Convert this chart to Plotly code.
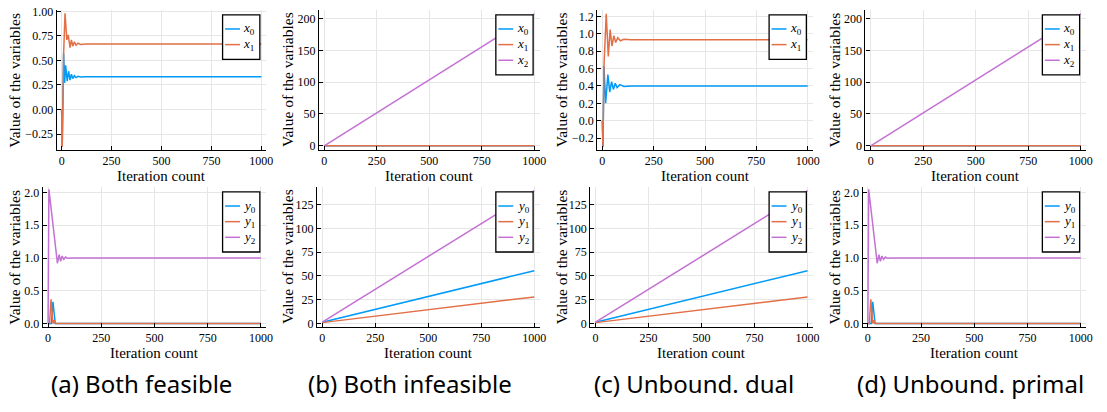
import plotly.graph_objects as go

W, H = 1107, 412

BLUE, ORANGE, PURPLE = "#009AF9", "#E26F46", "#C371D2"

# ---------------- data ----------------
iter_ticks = [0, 250, 500, 750, 1000]
iter_labels = ["0", "250", "500", "750", "1000"]

# (a) both feasible: primal iterates
a_x0_iter = [0, 3, 10, 15, 20, 28, 35, 42, 49, 56, 64, 72, 82, 95, 120, 1000]
a_x0 = [0.0, -0.38, 0.57, 0.27, 0.45, 0.29, 0.39, 0.30, 0.36, 0.315, 0.345, 0.325, 0.338, 0.331, 0.333, 0.333]
a_x1_iter = [0, 3, 10, 17, 26, 33, 42, 49, 56, 64, 72, 82, 95, 120, 1000]
a_x1 = [0.0, -0.38, 0.57, 0.98, 0.71, 0.76, 0.63, 0.71, 0.645, 0.69, 0.655, 0.675, 0.663, 0.667, 0.667]
# (a) both feasible: dual iterates
a_y0_iter = [0, 16, 23, 34, 1000]
a_y0 = [0.0, 0.0, 0.33, 0.0, 0.0]
a_y1_iter = [0, 7, 14, 23, 29, 34, 1000]
a_y1 = [0.0, 0.0, 0.37, 0.0, 0.05, 0.0, 0.0]
a_y2_iter = [0, 4, 44, 52, 59, 66, 74, 82, 92, 108, 1000]
a_y2 = [0.0, 2.05, 0.92, 1.05, 0.95, 1.03, 0.98, 1.015, 0.995, 1.0, 1.0]

# (b) both infeasible
b_iter = [0, 1000]
b_x0 = [0.0, 0.0]
b_x1 = [0.0, 0.0]
b_x2 = [0.0, 207.5]
b_y0 = [1.5, 55.5]
b_y1 = [1.0, 28.0]
b_y2 = [1.5, 139.5]

# (c) unbounded dual
c_x0_iter = [0, 3, 8, 16, 27, 36, 45, 54, 63, 72, 85, 105, 140, 1000]
c_x0 = [0.0, -0.3, 0.63, 0.20, 0.53, 0.33, 0.45, 0.36, 0.43, 0.38, 0.415, 0.395, 0.40, 0.40]
c_x1_iter = [0, 3, 8, 19, 29, 38, 47, 56, 65, 75, 88, 105, 140, 1000]
c_x1 = [0.0, -0.3, 0.63, 1.23, 0.74, 1.05, 0.86, 0.98, 0.90, 0.955, 0.92, 0.938, 0.933, 0.933]
c_iter = [0, 1000]
c_y0 = [1.5, 55.5]
c_y1 = [1.0, 28.0]
c_y2 = [1.5, 139.5]

# (d) unbounded primal
d_iter = [0, 1000]
d_x0 = [0.0, 0.0]
d_x1 = [0.0, 0.0]
d_x2 = [0.0, 207.5]
d_y0_iter = [0, 16, 23, 34, 1000]
d_y0 = [0.0, 0.0, 0.33, 0.0, 0.0]
d_y1_iter = [0, 7, 14, 23, 29, 34, 1000]
d_y1 = [0.0, 0.0, 0.37, 0.0, 0.05, 0.0, 0.0]
d_y2_iter = [0, 4, 44, 52, 59, 66, 74, 82, 92, 108, 1000]
d_y2 = [0.0, 2.05, 0.92, 1.05, 0.95, 1.03, 0.98, 1.015, 0.995, 1.0, 1.0]

captions = ["(a) Both feasible", "(b) Both infeasible", "(c) Unbound. dual", "(d) Unbound. primal"]
caption_x = [142, 413, 698, 977]

ticks_a_top = [-0.25, 0.0, 0.25, 0.5, 0.75, 1.0]
ticks_a_top_lbl = ["\u22120.25", "0.00", "0.25", "0.50", "0.75", "1.00"]
ticks_big = [0, 50, 100, 150, 200]
ticks_big_lbl = ["0", "50", "100", "150", "200"]
ticks_c_top = [-0.2, 0.0, 0.2, 0.4, 0.6, 0.8, 1.0, 1.2]
ticks_c_top_lbl = ["\u22120.2", "0.0", "0.2", "0.4", "0.6", "0.8", "1.0", "1.2"]
ticks_dual = [0.0, 0.5, 1.0, 1.5, 2.0]
ticks_dual_lbl = ["0.0", "0.5", "1.0", "1.5", "2.0"]
ticks_lin = [0, 25, 50, 75, 100, 125]
ticks_lin_lbl = ["0", "25", "50", "75", "100", "125"]

X_NAMES = ["<i>x</i><sub>0</sub>", "<i>x</i><sub>1</sub>", "<i>x</i><sub>2</sub>"]
Y_NAMES = ["<i>y</i><sub>0</sub>", "<i>y</i><sub>1</sub>", "<i>y</i><sub>2</sub>"]

# panel boxes in pixels: (left, right, top, bottom)
panels = [
    dict(box=(57, 268, 5, 148), yr=(-0.41, 1.015), tv=ticks_a_top, tt=ticks_a_top_lbl,
         series=[(a_x0_iter, a_x0, BLUE), (a_x1_iter, a_x1, ORANGE)], names=X_NAMES),
    dict(box=(321, 543, 5, 148), yr=(-6.3, 213.8), tv=ticks_big, tt=ticks_big_lbl,
         series=[(b_iter, b_x0, BLUE), (b_iter, b_x1, ORANGE), (b_iter, b_x2, PURPLE)], names=X_NAMES),
    dict(box=(601, 818, 5, 148), yr=(-0.335, 1.276), tv=ticks_c_top, tt=ticks_c_top_lbl,
         series=[(c_x0_iter, c_x0, BLUE), (c_x1_iter, c_x1, ORANGE)], names=X_NAMES),
    dict(box=(871, 1093, 5, 148), yr=(-6.3, 213.8), tv=ticks_big, tt=ticks_big_lbl,
         series=[(d_iter, d_x0, BLUE), (d_iter, d_x1, ORANGE), (d_iter, d_x2, PURPLE)], names=X_NAMES),
    dict(box=(43, 268, 186, 329), yr=(-0.05, 2.085), tv=ticks_dual, tt=ticks_dual_lbl,
         series=[(a_y0_iter, a_y0, BLUE), (a_y1_iter, a_y1, ORANGE), (a_y2_iter, a_y2, PURPLE)], names=Y_NAMES),
    dict(box=(319, 543, 186, 329), yr=(-3.4, 143.5), tv=ticks_lin, tt=ticks_lin_lbl,
         series=[(b_iter, b_y0, BLUE), (b_iter, b_y1, ORANGE), (b_iter, b_y2, PURPLE)], names=Y_NAMES),
    dict(box=(594, 818, 186, 329), yr=(-3.4, 143.5), tv=ticks_lin, tt=ticks_lin_lbl,
         series=[(c_iter, c_y0, BLUE), (c_iter, c_y1, ORANGE), (c_iter, c_y2, PURPLE)], names=Y_NAMES),
    dict(box=(868, 1093, 186, 329), yr=(-0.05, 2.085), tv=ticks_dual, tt=ticks_dual_lbl,
         series=[(d_y0_iter, d_y0, BLUE), (d_y1_iter, d_y1, ORANGE), (d_y2_iter, d_y2, PURPLE)], names=Y_NAMES),
]

SERIF = "Liberation Serif"


def fx(p):
    return p / W


def fy(p):
    return 1 - p / H


fig = go.Figure()
layout = dict(
    width=W, height=H, margin=dict(l=0, r=0, t=0, b=0),
    paper_bgcolor="white", plot_bgcolor="white", showlegend=False,
)
shapes, annotations = [], []

for i, p in enumerate(panels, start=1):
    l, r, t, b = p["box"]
    xa, ya = f"x{i}", f"y{i}"
    axis_common = dict(
        showline=True, linecolor="black", linewidth=1.2, mirror=False,
        ticks="inside", ticklen=4, tickwidth=1, tickcolor="black",
        showgrid=True, gridcolor="#e6e6e6", gridwidth=1, zeroline=False,
        tickfont=dict(family=SERIF, size=12, color="black"), tickmode="array",
    )
    layout[f"xaxis{i}"] = dict(axis_common, domain=[fx(l), fx(r)], anchor=ya,
                               range=[-25, 1025], tickvals=iter_ticks, ticktext=iter_labels)
    layout[f"yaxis{i}"] = dict(axis_common, domain=[fy(b), fy(t)], anchor=xa,
                               range=list(p["yr"]), tickvals=p["tv"], ticktext=p["tt"])
    for (xs, ys, col), name in zip(p["series"], p["names"]):
        fig.add_trace(go.Scatter(x=xs, y=ys, mode="lines", name=name,
                                 line=dict(color=col, width=1.5),
                                 xaxis=xa, yaxis=ya, hoverinfo="skip"))

    # axis titles
    annotations.append(dict(text="Iteration count", x=fx((l + r) / 2), y=fy(b + 26.5),
                            xref="paper", yref="paper", showarrow=False,
                            xanchor="center", yanchor="middle",
                            font=dict(family=SERIF, size=15, color="black")))
    col_left = [0, 275, 550, 825][(i - 1) % 4]
    annotations.append(dict(text="Value of the variables", x=fx(col_left + 15), y=fy((t + b) / 2),
                            xref="paper", yref="paper", showarrow=False, textangle=-90,
                            xanchor="center", yanchor="middle",
                            font=dict(family=SERIF, size=15.5, color="black")))

    # legend box
    n = len(p["series"])
    bw = 37.5
    bx1 = r - 6.5
    bx0 = bx1 - bw
    by0 = t + 5
    by1 = by0 + 14.5 + 16 * (n - 1) + 15
    shapes.append(dict(type="rect", xref="paper", yref="paper",
                       x0=fx(bx0), x1=fx(bx1), y0=fy(by1), y1=fy(by0),
                       line=dict(color="black", width=1.3), fillcolor="white", layer="above"))
    for k, ((_, _, col), name) in enumerate(zip(p["series"], p["names"])):
        yy = by0 + 14.5 + 16 * k
        shapes.append(dict(type="line", xref="paper", yref="paper",
                           x0=fx(bx0 + 2.5), x1=fx(bx0 + 17.5), y0=fy(yy), y1=fy(yy),
                           line=dict(color=col, width=1.5), layer="above"))
        annotations.append(dict(text=name, x=fx(bx0 + 19), y=fy(yy),
                                xref="paper", yref="paper", showarrow=False,
                                xanchor="left", yanchor="middle",
                                font=dict(family=SERIF, size=13, color="black")))

for cap, cx in zip(captions, caption_x):
    annotations.append(dict(text=cap, x=fx(cx), y=fy(387), xref="paper", yref="paper",
                            showarrow=False, xanchor="center", yanchor="middle",
                            font=dict(family="Noto Sans", size=24, color="black")))

layout["shapes"] = shapes
layout["annotations"] = annotations
fig.update_layout(**layout)
fig.write_html("out.html")
